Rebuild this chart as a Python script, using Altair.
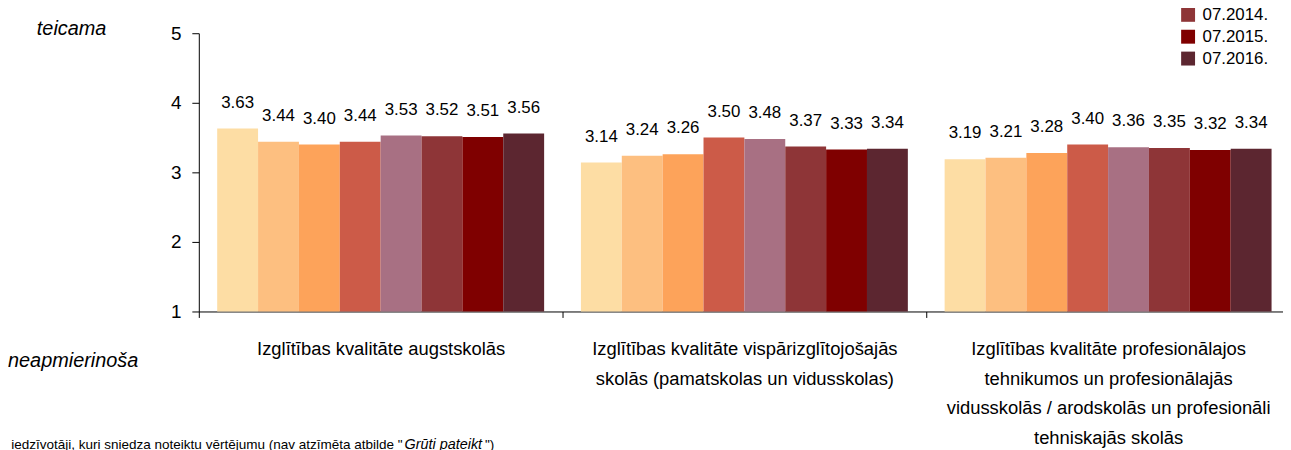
import altair as alt
import pandas as pd

categories = [
    "Izglītības kvalitāte augstskolās",
    "Izglītības kvalitāte vispārizglītojošajās|skolās (pamatskolas  un vidusskolas)",
    "Izglītības kvalitāte profesionālajos|tehnikumos un profesionālajās|vidusskolās / arodskolās un profesionāli|tehniskajās skolās",
]
series = ["07.2009.", "07.2010.", "07.2011.", "07.2012.", "07.2013.", "07.2014.", "07.2015.", "07.2016."]
values_augst = [3.63, 3.44, 3.40, 3.44, 3.53, 3.52, 3.51, 3.56]
values_visp = [3.14, 3.24, 3.26, 3.50, 3.48, 3.37, 3.33, 3.34]
values_prof = [3.19, 3.21, 3.28, 3.40, 3.36, 3.35, 3.32, 3.34]
colors = ["#FDDDA4", "#FDBF80", "#FDA35A", "#CC5B48", "#A87083", "#8E3537", "#7F0000", "#5C2630"]

rows = []
for cat, vals in zip(categories, [values_augst, values_visp, values_prof]):
    for s, v in zip(series, vals):
        rows.append({"category": cat, "series": s, "value": v, "base": 1.0, "label": f"{v:.2f}"})
df = pd.DataFrame(rows)

FONT = "Liberation Sans"

x_enc = alt.X(
    "category:N",
    sort=categories,
    scale=alt.Scale(range=[0, 1098], paddingInner=0, paddingOuter=0),
    axis=alt.Axis(
        title=None, labelAngle=0, tickBand="extent", ticks=True, tickSize=6,
        tickColor="black", domainColor="black", labelColor="black",
        labelExpr="split(datum.label, '|')", labelFont=FONT, labelFontSize=18.5,
        labelLineHeight=30, labelPadding=22, labelLimit=700, labelBaseline="top",
        labelOverlap=False, labelFlush=False,
    ),
)
xoff = alt.XOffset("series:N", sort=series, scale=alt.Scale(paddingInner=0, paddingOuter=0.45))
y_enc = alt.Y(
    "value:Q",
    scale=alt.Scale(domain=[1, 5], nice=False, zero=False),
    axis=alt.Axis(
        title=None, values=[1, 2, 3, 4, 5], grid=False, tickSize=7, labelFontSize=19,
        labelPadding=11, labelFont=FONT, tickColor="black", domainColor="black",
        labelColor="black", format="d",
    ),
)

base = alt.Chart(df)
bars = base.mark_bar().encode(
    x=x_enc,
    xOffset=xoff,
    y=y_enc,
    y2="base:Q",
    color=alt.Color(
        "series:N",
        sort=series,
        scale=alt.Scale(domain=series, range=colors),
        legend=alt.Legend(
            title=None, orient="none", legendX=987, legendY=-137, symbolType="square",
            symbolSize=196, symbolStrokeWidth=0, labelFontSize=17, labelFont=FONT,
            labelColor="black", rowPadding=4, labelOffset=6, padding=0,
        ),
    ),
)
labels = base.mark_text(dy=-26, fontSize=17, font=FONT, color="black", baseline="middle").encode(
    x=alt.X("category:N", sort=categories),
    xOffset=alt.XOffset("series:N", sort=series),
    y=alt.Y("value:Q"),
    text="label:N",
)

notes = alt.Chart(pd.DataFrame({"t": ["teicama"]})).mark_text(
    font=FONT, fontSize=20, fontStyle="italic", align="left", baseline="middle", color="black"
).encode(x=alt.value(-163), y=alt.value(-4), text="t:N")
notes2 = alt.Chart(pd.DataFrame({"t": ["neapmierinoša"]})).mark_text(
    font=FONT, fontSize=20, fontStyle="italic", align="left", baseline="middle", color="black"
).encode(x=alt.value(-192), y=alt.value(330), text="t:N")

foot_a = alt.Chart(pd.DataFrame({"t": ['Bāze: visi Latvijas iedzīvotāji, kuri sniedza noteiktu vērtējumu (nav atzīmēta atbilde "']})).mark_text(
    font=FONT, fontSize=13.6, align="right", baseline="alphabetic", color="black"
).encode(x=alt.value(205), y=alt.value(418), text="t:N")
foot_b = alt.Chart(pd.DataFrame({"t": ["Grūti pateikt"]})).mark_text(
    font=FONT, fontSize=14.5, fontStyle="italic", align="left", baseline="alphabetic", color="black"
).encode(x=alt.value(207), y=alt.value(418), text="t:N")
foot_c = alt.Chart(pd.DataFrame({"t": ['")']})).mark_text(
    font=FONT, fontSize=13.6, align="left", baseline="alphabetic", color="black"
).encode(x=alt.value(288), y=alt.value(418), text="t:N")

chart = alt.layer(bars, labels, notes, notes2, foot_a, foot_b, foot_c).properties(
    width=1091,
    height=280,
    autosize=alt.AutoSizeParams(type="none"),
    padding={"left": 192, "top": 24, "right": 0, "bottom": 138},
).configure_view(stroke=None)

chart.save("out.html", embed_options={"renderer": "svg", "actions": False})
